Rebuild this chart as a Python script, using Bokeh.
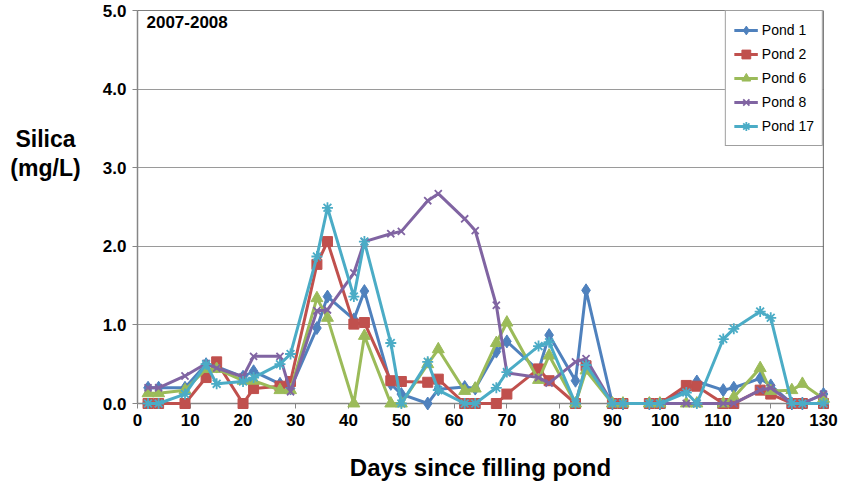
from bokeh.plotting import figure
from bokeh.models import Range1d, FixedTicker, NumeralTickFormatter, Label, Span, Legend, LegendItem
from bokeh.core.properties import value
from bokeh.embed import file_html
from bokeh.resources import INLINE

# ---------------- data ----------------
days = [2, 4, 9, 13, 15, 20, 22, 27, 29, 34, 36, 41, 43, 48, 50, 55, 57, 62, 64, 68,
        70, 76, 78, 83, 85, 90, 92, 97, 99, 104, 106, 111, 113, 118, 120, 124, 126, 130]

pond1 = [0.20, 0.20, 0.20, 0.50, 0.47, 0.34, 0.41, 0.25, 0.19, 0.96, 1.36, 1.07, 1.43, 0.25, 0.12, 0.00, 0.18, 0.21, 0.19, 0.66,
         0.79, 0.42, 0.87, 0.29, 1.44, 0.00, 0.00, 0.00, 0.00, 0.17, 0.28, 0.17, 0.20, 0.32, 0.23, 0.00, 0.00, 0.12]
pond2 = [0.00, 0.00, 0.00, 0.33, 0.53, 0.00, 0.19, 0.22, 0.28, 1.77, 2.06, 1.01, 1.03, 0.29, 0.28, 0.27, 0.31, 0.00, 0.00, 0.00,
         0.12, 0.44, 0.29, 0.00, 0.48, 0.00, 0.00, 0.00, 0.00, 0.23, 0.22, 0.00, 0.00, 0.17, 0.12, 0.00, 0.00, 0.00]
pond6 = [0.13, 0.13, 0.17, 0.44, 0.44, 0.29, 0.29, 0.17, 0.17, 1.34, 1.09, 0.00, 0.86, 0.00, 0.00, 0.50, 0.69, 0.16, 0.19, 0.77,
         1.03, 0.30, 0.61, 0.00, 0.42, 0.00, 0.00, 0.00, 0.00, 0.00, 0.00, 0.00, 0.08, 0.45, 0.16, 0.17, 0.25, 0.06]
pond8 = [0.20, 0.20, 0.35, 0.51, 0.45, 0.34, 0.60, 0.60, 0.15, 1.18, 1.19, 1.66, 2.06, 2.16, 2.19, 2.58, 2.67, 2.35, 2.20, 1.25,
         0.39, 0.33, 0.26, 0.53, 0.57, 0.00, 0.00, 0.00, 0.00, 0.00, 0.00, 0.00, 0.00, 0.17, 0.20, 0.00, 0.00, 0.12]
pond17 = [0.00, 0.00, 0.12, 0.50, 0.25, 0.28, 0.33, 0.50, 0.63, 1.87, 2.49, 1.36, 2.06, 0.77, 0.00, 0.53, 0.17, 0.00, 0.00, 0.20,
          0.40, 0.73, 0.78, 0.00, 0.49, 0.00, 0.00, 0.00, 0.00, 0.14, 0.00, 0.82, 0.95, 1.17, 1.09, 0.00, 0.00, 0.00]

series_names = ["Pond 1", "Pond 2", "Pond 6", "Pond 8", "Pond 17"]
series_values = [pond1, pond2, pond6, pond8, pond17]
x_ticks = [0, 10, 20, 30, 40, 50, 60, 70, 80, 90, 100, 110, 120, 130]
y_ticks = [0, 1, 2, 3, 4, 5]
title_text = "2007-2008"
x_title = "Days since filling pond"
y_title_lines = ["Silica", "(mg/L)"]

# ---------------- styles ----------------
colors = ["#4F81BD", "#C0504D", "#9BBB59", "#8064A2", "#4BACC6"]
markers = ["diamond", "square", "triangle", "x", "asterisk"]
msizes = [13, 10, 12, 10, 11]
FONT = "Liberation Sans"
AXIS_GRAY = "#868686"

p = figure(width=842, height=490, x_range=Range1d(0, 130), y_range=Range1d(0, 5),
           output_backend="svg", toolbar_location=None,
           min_border_left=137, min_border_right=19, min_border_top=10, min_border_bottom=87)
p.outline_line_color = None
p.background_fill_color = "white"
p.border_fill_color = "white"

# axes
p.xaxis.ticker = FixedTicker(ticks=x_ticks)
p.yaxis.ticker = FixedTicker(ticks=y_ticks)
p.yaxis.formatter = NumeralTickFormatter(format="0.0")
for ax in (p.xaxis[0], p.yaxis[0]):
    ax.axis_line_color = AXIS_GRAY
    ax.axis_line_width = 1.5
    ax.major_tick_line_color = AXIS_GRAY
    ax.major_tick_line_width = 1
    ax.major_tick_out = 5
    ax.major_tick_in = 0
    ax.minor_tick_line_color = None
    ax.major_label_text_font = FONT
    ax.major_label_text_font_style = "bold"
    ax.major_label_text_font_size = "17px"
    ax.major_label_text_color = "black"
p.yaxis.major_label_standoff = 6
p.xaxis.major_label_standoff = 5

p.xaxis.axis_label = x_title
p.xaxis.axis_label_text_font = FONT
p.xaxis.axis_label_text_font_style = "bold"
p.xaxis.axis_label_text_font_size = "24px"
p.xaxis.axis_label_text_color = "black"
p.xaxis.axis_label_standoff = 25

p.xgrid.visible = False
p.ygrid.ticker = FixedTicker(ticks=[1, 2, 3, 4])
p.ygrid.grid_line_color = "#9a9a9a"
p.ygrid.grid_line_width = 1

# top/right border
p.add_layout(Span(location=5, dimension="width", line_color="black", line_width=1.2))
p.add_layout(Span(location=130, dimension="height", line_color="black", line_width=1.2))

# series
items = []
for name, vals, c, m, s in zip(series_names, series_values, colors, markers, msizes):
    lr = p.line(days, vals, line_color=c, line_width=3, level="overlay")
    sr = p.scatter(days, vals, marker=m, size=s, fill_color=c, line_color=c,
                   line_width=1.8 if m in ("x", "asterisk") else 1, level="overlay")
    items.append(LegendItem(label=name, renderers=[lr, sr]))

legend = Legend(items=items, location="top_right", margin=0, padding=8, spacing=2,
                glyph_height=22, label_height=22, glyph_width=24, label_standoff=4,
                label_text_font=FONT, label_text_font_size="14px", label_text_color="black",
                border_line_color="#404040", border_line_width=1,
                background_fill_color="white", background_fill_alpha=1.0)
p.add_layout(legend)

# in-plot title
p.add_layout(Label(x=1.7, y=4.93, text=title_text, text_font=FONT, text_font_style="bold",
                   text_font_size="17px", text_baseline="top", text_align="left", text_color="black"))

# y-axis title (horizontal, two lines): text glyphs anchored at the axis, shifted left in pixels
p.text(x=[0, 0], y=[3.36, 2.99], text=y_title_lines, x_offset=-92,
       text_font=value(FONT), text_font_style="bold", text_font_size="23px",
       text_baseline="middle", text_align="center", text_color="black", level="overlay")

open("out.html", "w").write(file_html(p, INLINE))
